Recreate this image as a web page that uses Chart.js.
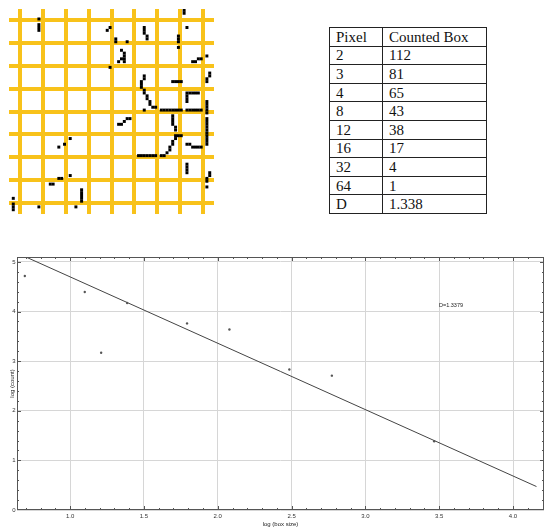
<!DOCTYPE html>
<html>
<head>
<meta charset="utf-8">
<script src="https://cdn.jsdelivr.net/npm/chart.js@4.4.0/dist/chart.umd.min.js"></script>
<style>
    html, body { margin: 0; padding: 0; background: #fff; }
    body { width: 550px; height: 531px; position: relative; overflow: hidden; }
    #gridBox { position: absolute; left: 5px; top: 5px; width: 213px; height: 213px; }
    #boxTable {
        position: absolute; left: 329px; top: 27px; width: 157px;
        border-collapse: collapse; table-layout: fixed;
        font-family: "Liberation Serif", "Times New Roman", serif; font-size: 15px; color: #111;
    }
    #boxTable td { border: 1px solid #222; height: 17.6px; padding: 0 0 0 6px; line-height: 16px; white-space: nowrap; }
    #plotBox { position: absolute; left: 0; top: 240px; width: 550px; height: 291px; }
</style>
</head>
<body>
<div id="gridBox"><canvas id="gridCanvas" width="213" height="213"></canvas></div>
<table id="boxTable">
    <col style="width:53px"><col style="width:104px">
    <tbody id="tableBody"></tbody>
</table>
<div id="plotBox"><canvas id="plotCanvas" width="550" height="291"></canvas></div>

<script>
// Table values
const tableHeader = ['Pixel', 'Counted Box'];
const pixelSizes = [2, 3, 4, 8, 12, 16, 32, 64];
const boxCounts = [112, 81, 65, 43, 38, 17, 4, 1];
const dimensionRow = ['D', '1.338'];

// Box-counting grid picture (image units, 72 x 72)
const imageSize = 72;
const gridLines = [4, 12, 20, 28, 36, 44, 52, 60, 68];
const blackPixels = [
    [10, 3], [10, 5], [10, 6], [10, 7],
    [34, 7], [35, 6],
    [37, 10], [37, 11], [41, 11],
    [39, 14], [40, 15], [40, 16], [40, 17], [40, 18], [38, 18], [39, 17],
    [35, 20],
    [47, 6], [47, 7], [47, 8], [48, 9], [48, 10],
    [61, 0], [61, 1], [62, 6], [59, 9], [59, 10], [59, 11], [59, 13],
    [64, 18], [65, 18], [66, 17], [67, 17], [69, 16],
    [70, 22], [70, 23], [69, 24], [69, 25],
    [57, 25], [58, 25], [59, 25], [60, 25],
    [47, 23], [47, 24], [46, 25], [46, 26], [46, 27], [47, 28], [47, 29], [48, 30], [48, 31],
    [49, 32], [49, 33], [50, 34], [51, 34], [47, 35],
    [53, 35], [54, 35], [55, 35], [56, 35], [57, 35], [58, 35], [59, 35], [60, 35],
    [62, 29], [63, 29], [64, 29], [65, 29], [66, 29], [62, 30], [62, 31], [62, 32],
    [62, 35], [63, 35], [64, 35], [65, 35], [66, 35], [67, 35],
    [69, 32], [69, 33], [69, 34], [69, 35], [69, 36],
    [69, 38], [69, 39], [69, 40], [69, 41], [69, 42], [69, 43], [69, 44], [69, 45], [69, 46], [69, 47],
    [57, 37], [57, 38], [57, 39], [57, 40], [58, 41], [58, 42],
    [38, 40], [39, 40], [40, 39], [41, 38], [42, 38],
    [45, 51], [46, 51], [47, 51], [48, 51], [49, 51], [50, 51], [51, 51], [53, 51], [54, 51],
    [55, 50], [56, 49], [56, 48], [57, 47], [57, 46], [58, 45], [58, 44], [59, 44], [60, 44],
    [62, 47], [63, 47], [64, 48], [65, 48], [66, 48], [67, 48],
    [62, 54], [62, 55], [62, 56], [62, 57],
    [70, 57], [70, 58], [69, 59], [69, 60], [69, 62],
    [21, 45], [19, 47], [17, 48],
    [21, 58], [17, 59], [18, 59], [14, 61], [15, 61],
    [25, 63], [25, 64], [25, 65], [25, 66], [25, 67],
    [23, 69], [10, 69],
    [1, 66], [1, 68], [1, 69], [1, 70]
];

// Log-log plot values
const logBoxSize = [0.693, 1.099, 1.21, 1.386, 1.792, 2.079, 2.485, 2.773, 3.466];
const logCount = [4.718, 4.394, 3.17, 4.174, 3.761, 3.638, 2.833, 2.708, 1.386];
const fitX = [0.693, 4.159];
const fitY = [5.110, 0.473];
const xTickValues = [1.0, 1.5, 2.0, 2.5, 3.0, 3.5, 4.0];
const yTickValues = [0, 1, 2, 3, 4, 5];
const slopeLabel = 'D=1.3379';
const slopeLabelAt = [3.58, 4.13];

// table banao
const tbody = document.getElementById('tableBody');
const rows = [tableHeader].concat(pixelSizes.map((p, i) => [p, boxCounts[i]]), [dimensionRow]);
rows.forEach(r => {
    const tr = document.createElement('tr');
    tr.innerHTML = `<td>${r[0]}</td><td>${r[1]}</td>`;
    tbody.appendChild(tr);
});

// Grid picture as a chart: yellow grid lines, black pixels as square points
new Chart(document.getElementById('gridCanvas'), {
    type: 'scatter',
    data: {
        datasets: [{
            data: blackPixels.map(p => ({ x: p[0] + 0.5, y: p[1] + 0.5 })),
            pointStyle: 'rect',
            pointRadius: 2.1,
            backgroundColor: '#000',
            borderWidth: 0
        }]
    },
    options: {
        responsive: false,
        animation: false,
        events: [],
        layout: { padding: 0 },
        plugins: { legend: { display: false }, tooltip: { enabled: false } },
        scales: {
            x: {
                type: 'linear', min: 0, max: imageSize,
                afterBuildTicks: s => { s.ticks = gridLines.map(v => ({ value: v })); },
                ticks: { display: false },
                grid: { color: '#F8C21A', lineWidth: 4, drawTicks: false },
                border: { display: false }
            },
            y: {
                type: 'linear', min: 0, max: imageSize, reverse: true,
                afterBuildTicks: s => { s.ticks = gridLines.map(v => ({ value: v })); },
                ticks: { display: false },
                grid: { color: '#F8C21A', lineWidth: 4, drawTicks: false },
                border: { display: false }
            }
        }
    }
});

// Frame, inner ticks and the D label
const frameTicks = {
    id: 'frameTicks',
    afterDatasetsDraw(chart) {
        const { ctx, chartArea: a, scales: { x, y } } = chart;
        ctx.save();
        ctx.strokeStyle = '#555';
        ctx.lineWidth = 1;
        ctx.strokeRect(a.left + 0.5, a.top + 0.5, a.right - a.left - 1, a.bottom - a.top - 1);
        ctx.beginPath();
        for (let i = 7; i <= 42; i++) {
            const px = Math.round(x.getPixelForValue(i / 10)) + 0.5;
            const len = i % 5 === 0 ? 4 : 2;
            ctx.moveTo(px, a.bottom); ctx.lineTo(px, a.bottom - len);
            ctx.moveTo(px, a.top); ctx.lineTo(px, a.top + len);
        }
        for (let j = 1; j <= 25; j++) {
            const py = Math.round(y.getPixelForValue(j / 5)) + 0.5;
            const len = j % 5 === 0 ? 4 : 2;
            ctx.moveTo(a.left, py); ctx.lineTo(a.left + len, py);
            ctx.moveTo(a.right, py); ctx.lineTo(a.right - len, py);
        }
        ctx.stroke();
        ctx.fillStyle = '#222';
        ctx.font = '5.5px "Liberation Sans", Arial, sans-serif';
        ctx.textAlign = 'center';
        ctx.textBaseline = 'middle';
        ctx.fillText(slopeLabel, x.getPixelForValue(slopeLabelAt[0]), y.getPixelForValue(slopeLabelAt[1]));
        ctx.restore();
    }
};

const smallFont = { family: '"Liberation Sans", Arial, sans-serif', size: 6 };

new Chart(document.getElementById('plotCanvas'), {
    type: 'scatter',
    data: {
        datasets: [
            {
                data: logBoxSize.map((v, i) => ({ x: v, y: logCount[i] })),
                pointRadius: 1.2,
                backgroundColor: '#555',
                borderWidth: 0
            },
            {
                type: 'line',
                data: fitX.map((v, i) => ({ x: v, y: fitY[i] })),
                borderColor: '#444',
                borderWidth: 1,
                pointRadius: 0,
                fill: false
            }
        ]
    },
    options: {
        responsive: false,
        animation: false,
        events: [],
        layout: { padding: { top: 17, right: 6, left: 0, bottom: 0 } },
        plugins: { legend: { display: false }, tooltip: { enabled: false } },
        scales: {
            x: {
                type: 'linear', min: 0.64, max: 4.21,
                afterBuildTicks: s => { s.ticks = xTickValues.map(v => ({ value: v })); },
                afterFit: s => { s.height = 21; },
                ticks: { callback: v => v.toFixed(1), font: smallFont, color: '#333', padding: 3, maxRotation: 0, autoSkip: false },
                grid: { color: '#d6d6d6', lineWidth: 1, drawTicks: false },
                border: { display: false },
                title: { display: true, text: 'log (box size)', font: smallFont, color: '#222', padding: { top: 0, bottom: 3.4 } }
            },
            y: {
                type: 'linear', min: 0, max: 5.1,
                afterBuildTicks: s => { s.ticks = yTickValues.map(v => ({ value: v })); },
                afterFit: s => { s.width = 17; },
                ticks: { callback: v => String(v), font: smallFont, color: '#333', padding: 1.5 },
                grid: { color: '#d6d6d6', lineWidth: 1, drawTicks: false },
                border: { display: false },
                title: { display: true, text: 'log (count)', font: smallFont, color: '#222', padding: { top: 8.4, bottom: 0 } }
            }
        }
    },
    plugins: [frameTicks]
});
</script>
</body>
</html>
